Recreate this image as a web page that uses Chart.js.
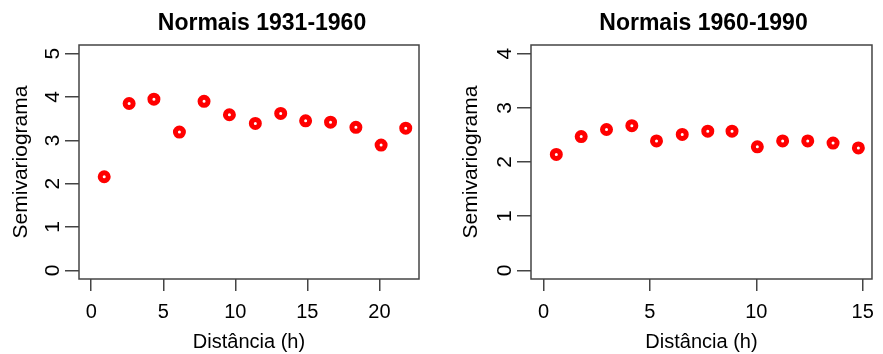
<!DOCTYPE html>
<html>
<head>
<meta charset="utf-8">
<script src="https://cdn.jsdelivr.net/npm/chart.js@4/dist/chart.umd.min.js"></script>
<style>
  body { margin: 0; background: #fff; }
  #wrap { display: flex; width: 883px; height: 354px; }
  canvas { display: block; }
</style>
</head>
<body>
<div id="wrap">
  <canvas id="chartA" width="450" height="354"></canvas>
  <canvas id="chartB" width="433" height="354"></canvas>
</div>
<script>
// Normais 1931-1960
const titleA = "Normais 1931-1960";
const distA = [0.90, 2.63, 4.35, 6.12, 7.83, 9.59, 11.39, 13.15, 14.88, 16.61, 18.37, 20.12, 21.83];
const semiA = [2.16, 3.85, 3.95, 3.19, 3.90, 3.59, 3.39, 3.62, 3.45, 3.42, 3.30, 2.89, 3.28];
const xTicksA = [0, 5, 10, 15, 20];
const yTicksA = [0, 1, 2, 3, 4, 5];
const xRangeA = [-0.85, 22.75];
const yRangeA = [-0.2, 5.2];

// Normais 1960-1990
const titleB = "Normais 1960-1990";
const distB = [0.60, 1.77, 2.96, 4.15, 5.31, 6.52, 7.72, 8.86, 10.05, 11.24, 12.42, 13.61, 14.80];
const semiB = [2.14, 2.47, 2.60, 2.67, 2.39, 2.51, 2.57, 2.57, 2.28, 2.39, 2.39, 2.35, 2.26];
const xTicksB = [0, 5, 10, 15];
const yTicksB = [0, 1, 2, 3, 4];
const xRangeB = [-0.59, 15.44];
const yRangeB = [-0.16, 4.16];

const xLabel = "Distância (h)";
const yLabel = "Semivariograma";

const FONT = "'Liberation Sans', Arial, sans-serif";
const LINE = "#444";

// box around the plot, rotated y tick labels (R style) and the title
const rStyle = {
  id: "rStyle",
  afterDraw(chart, args, opts) {
    const ctx = chart.ctx;
    const a = chart.chartArea;
    ctx.save();
    ctx.strokeStyle = LINE;
    ctx.lineWidth = 1.5;
    ctx.strokeRect(a.left, a.top, a.right - a.left, a.bottom - a.top);

    const y = chart.scales.y;
    ctx.fillStyle = "#000";
    ctx.font = "21px " + FONT;
    ctx.textAlign = "center";
    ctx.textBaseline = "middle";
    y.ticks.forEach(t => {
      ctx.save();
      ctx.translate(a.left - 26, y.getPixelForValue(t.value));
      ctx.rotate(-Math.PI / 2);
      ctx.fillText(String(t.value), 0, 0);
      ctx.restore();
    });

    ctx.font = "bold 23px " + FONT;
    ctx.textBaseline = "alphabetic";
    ctx.fillText(opts.text, opts.x, 29.5);
    ctx.restore();
  }
};

function makeChart(id, title, titleX, xs, ys, xTicks, yTicks, xRange, yRange, yWidth, rightPad) {
  const points = xs.map((x, i) => ({ x: x, y: ys[i] }));
  return new Chart(document.getElementById(id), {
    type: "scatter",
    data: {
      datasets: [{
        data: points,
        pointRadius: 4,
        pointBorderWidth: 5,
        pointBorderColor: "#ff0000",
        pointBackgroundColor: "#ffffff",
        pointHoverRadius: 4
      }]
    },
    options: {
      responsive: false,
      animation: false,
      layout: { padding: { top: 45, right: rightPad, left: 0, bottom: 0 } },
      plugins: {
        legend: { display: false },
        tooltip: { enabled: false },
        rStyle: { text: title, x: titleX }
      },
      scales: {
        x: {
          type: "linear",
          min: xRange[0],
          max: xRange[1],
          afterBuildTicks: s => { s.ticks = xTicks.map(v => ({ value: v })); },
          afterFit: s => { s.height = 75; },
          border: { display: false },
          grid: { drawOnChartArea: false, tickLength: 12, color: LINE, lineWidth: 1.5 },
          ticks: { color: "#000", font: { family: FONT, size: 20 }, padding: 9, maxRotation: 0 },
          title: { display: true, text: xLabel, color: "#000", font: { family: FONT, size: 20 }, padding: { top: 0, bottom: 0 } }
        },
        y: {
          type: "linear",
          min: yRange[0],
          max: yRange[1],
          afterBuildTicks: s => { s.ticks = yTicks.map(v => ({ value: v })); },
          afterFit: s => { s.width = yWidth; },
          border: { display: false },
          grid: { drawOnChartArea: false, tickLength: 14, color: LINE, lineWidth: 1.5 },
          ticks: { display: false },
          title: { display: true, text: yLabel, color: "#000", font: { family: FONT, size: 21 }, padding: { top: 9, bottom: 0 } }
        }
      }
    },
    plugins: [rStyle]
  });
}

makeChart("chartA", titleA, 262, distA, semiA, xTicksA, yTicksA, xRangeA, yRangeA, 79, 31);
makeChart("chartB", titleB, 253.5, distB, semiB, xTicksB, yTicksB, xRangeB, yRangeB, 81, 2);
</script>
</body>
</html>
